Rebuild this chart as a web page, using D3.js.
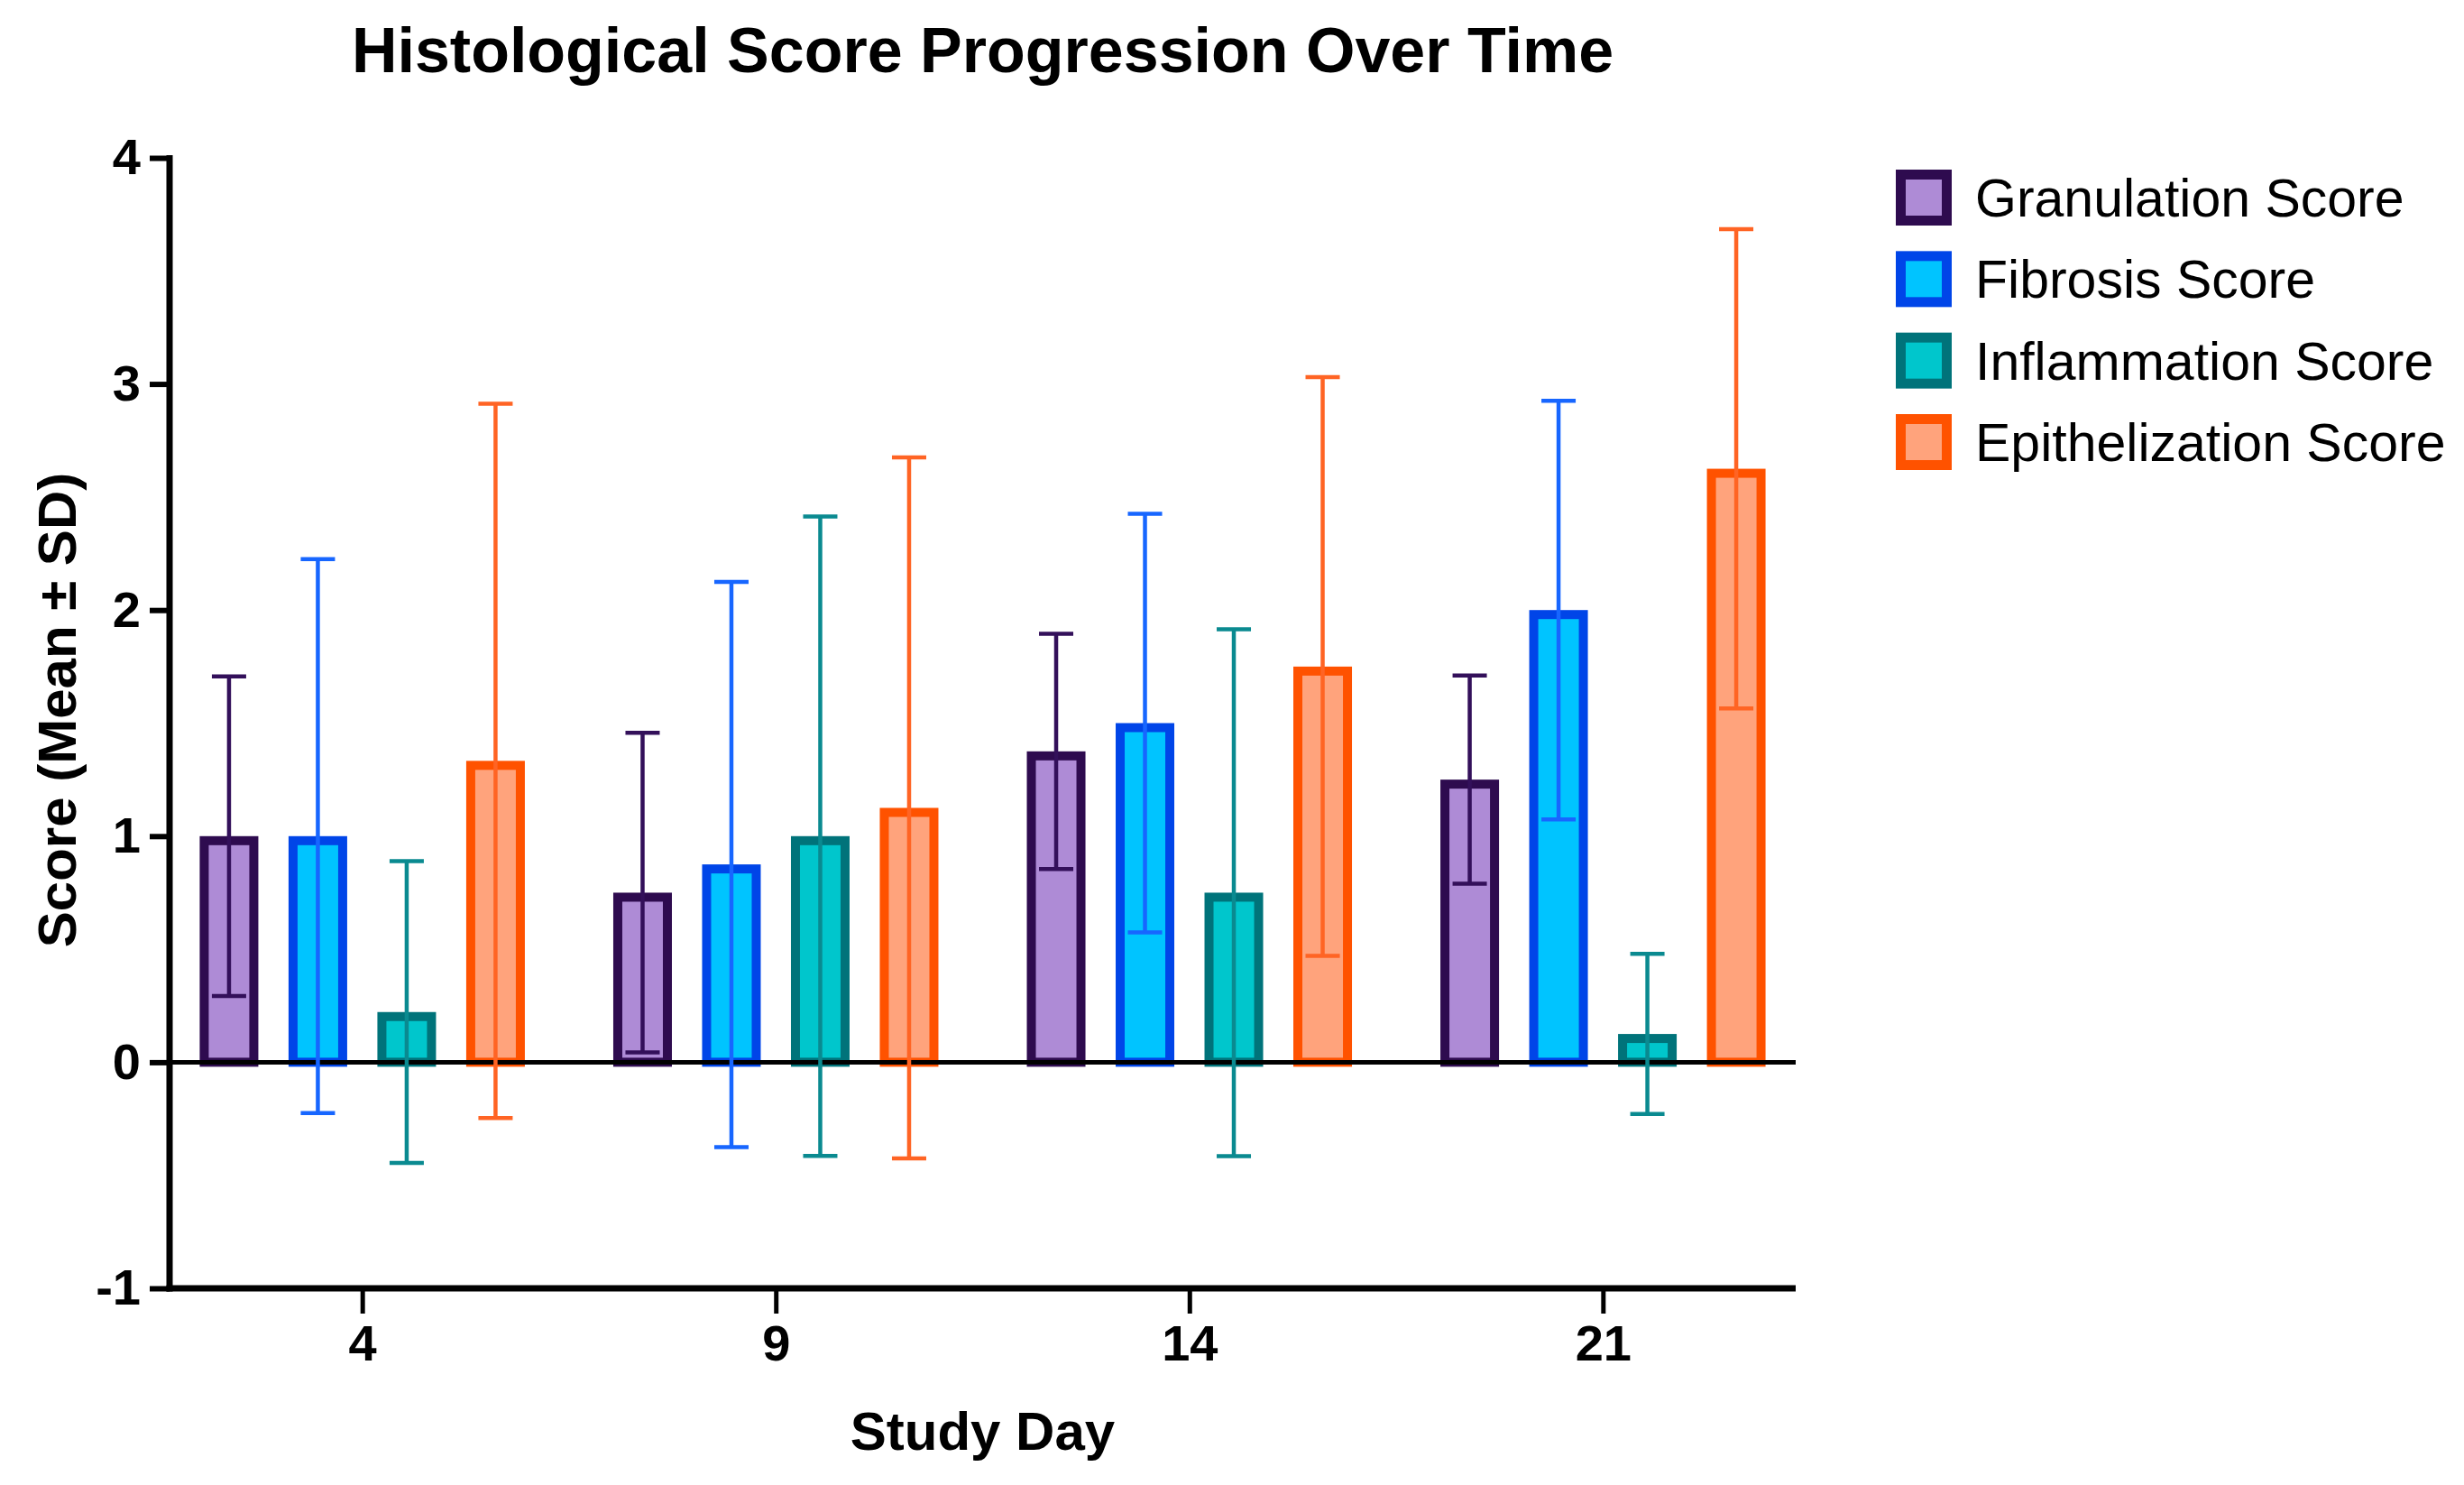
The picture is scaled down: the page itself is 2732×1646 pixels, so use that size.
<!DOCTYPE html>
<html>
<head>
<meta charset="utf-8">
<script src="https://cdn.jsdelivr.net/npm/d3@7"></script>
<style>
  html, body { margin: 0; padding: 0; background: #fff; }
  svg { display: block; }
  text { font-family: "Liberation Sans", Arial, Helvetica, sans-serif; fill: #000; }
</style>
</head>
<body>
<svg id="chart" width="2732" height="1646"></svg>
<script>
// ---- Data ----
const days = ["4", "9", "14", "21"];
const seriesNames = ["Granulation Score", "Fibrosis Score", "Inflammation Score", "Epithelization Score"];
const granulationMean = [1.0, 0.75, 1.375, 1.25];
const granulationSD   = [0.707, 0.707, 0.52, 0.46];
const fibrosisMean    = [1.0, 0.875, 1.5, 2.0];
const fibrosisSD      = [1.225, 1.25, 0.926, 0.926];
const inflammationMean = [0.222, 1.0, 0.75, 0.125];
const inflammationSD   = [0.667, 1.414, 1.165, 0.354];
const epithelizationMean = [1.333, 1.125, 1.75, 2.625];
const epithelizationSD   = [1.58, 1.55, 1.28, 1.06];
const yTickValues = [-1, 0, 1, 2, 3, 4];
const yTickLabels = ["-1", "0", "1", "2", "3", "4"];

const fillColors   = ["#AE8BD6", "#00C4FF", "#00C6CC", "#FFA37C"];
const strokeColors = ["#2E0B4F", "#0045E8", "#00737A", "#FF5200"];
const errColors    = ["#33105A", "#1766FF", "#0A8A90", "#FF6424"];

const means = [granulationMean, fibrosisMean, inflammationMean, epithelizationMean];
const sds = [granulationSD, fibrosisSD, inflammationSD, epithelizationSD];

const rows = [];
days.forEach((d, i) => {
  seriesNames.forEach((s, j) => {
    rows.push({ day: d, series: s, j: j, mean: means[j][i], sd: sds[j][i] });
  });
});

// ---- Layout ----
const svg = d3.select("#chart");
const plotLeft = 188, plotRight = 1991, plotTop = 175, plotBottom = 1428;

const y = d3.scaleLinear().domain([-1, 4]).range([plotBottom, plotTop]);
const x = d3.scalePoint().domain(days).range([plotLeft, plotRight]).padding(0.466);
const groupHalf = 197;
const xs = d3.scaleBand().domain(seriesNames).range([-groupHalf, groupHalf])
  .paddingInner(0.34).paddingOuter(0.17);

const bw = 10; // bar border width
// ---- Bars ----
const bars = svg.append("g");
bars.selectAll("rect").data(rows).join("rect")
  .attr("x", d => x(d.day) + xs(d.series) + bw / 2)
  .attr("y", d => y(d.mean) + bw / 2)
  .attr("width", xs.bandwidth() - bw)
  .attr("height", d => Math.max(0, y(0) - y(d.mean) - bw / 2))
  .attr("fill", d => fillColors[d.j])
  .attr("stroke", d => strokeColors[d.j])
  .attr("stroke-width", bw);

// ---- Zero line ----
svg.append("line")
  .attr("x1", plotLeft).attr("x2", plotRight)
  .attr("y1", y(0)).attr("y2", y(0))
  .attr("stroke", "#000").attr("stroke-width", 5);

// ---- Error bars ----
const capW = 38;
const eb = svg.append("g");
rows.forEach(d => {
  const cx = x(d.day) + xs(d.series) + xs.bandwidth() / 2;
  const g = eb.append("g").attr("stroke", errColors[d.j]).attr("stroke-width", 4.5);
  g.append("line").attr("x1", cx).attr("x2", cx)
    .attr("y1", y(d.mean + d.sd)).attr("y2", y(d.mean - d.sd));
  g.append("line").attr("x1", cx - capW / 2).attr("x2", cx + capW / 2)
    .attr("y1", y(d.mean + d.sd)).attr("y2", y(d.mean + d.sd));
  g.append("line").attr("x1", cx - capW / 2).attr("x2", cx + capW / 2)
    .attr("y1", y(d.mean - d.sd)).attr("y2", y(d.mean - d.sd));
});

// ---- Axes ----
const yAxis = d3.axisLeft(y).tickValues(yTickValues).tickSize(22).tickPadding(10)
  .tickFormat((d, i) => yTickLabels[i]);
const yg = svg.append("g").attr("transform", `translate(${plotLeft},0)`).call(yAxis);
yg.select(".domain").remove();
yg.selectAll(".tick line").attr("stroke", "#000").attr("stroke-width", 6);
yg.selectAll(".tick text").attr("font-size", 56).attr("font-weight", 900)
  .attr("font-family", "'Liberation Sans', Arial, sans-serif").attr("fill", "#000");
svg.append("line").attr("x1", plotLeft).attr("x2", plotLeft)
  .attr("y1", plotTop - 3).attr("y2", plotBottom + 3.5)
  .attr("stroke", "#000").attr("stroke-width", 7);

const xAxis = d3.axisBottom(x).tickSize(28).tickPadding(12);
const xg = svg.append("g").attr("transform", `translate(0,${plotBottom})`).call(xAxis);
xg.select(".domain").remove();
xg.selectAll(".tick line").attr("stroke", "#000").attr("stroke-width", 5);
xg.selectAll(".tick text").attr("font-size", 56).attr("font-weight", "bold")
  .attr("font-family", "'Liberation Sans', Arial, sans-serif").attr("fill", "#000");
svg.append("line").attr("x1", plotLeft - 3.5).attr("x2", plotRight)
  .attr("y1", plotBottom).attr("y2", plotBottom)
  .attr("stroke", "#000").attr("stroke-width", 7);

// ---- Titles ----
svg.append("text").attr("x", (plotLeft + plotRight) / 2).attr("y", 80)
  .attr("text-anchor", "middle").attr("font-size", 70).attr("font-weight", "bold")
  .text("Histological Score Progression Over Time");

svg.append("text").attr("x", (plotLeft + plotRight) / 2).attr("y", 1607)
  .attr("text-anchor", "middle").attr("font-size", 60).attr("font-weight", "bold")
  .text("Study Day");

svg.append("text").attr("transform", "translate(84,787) rotate(-90)")
  .attr("text-anchor", "middle").attr("font-size", 60).attr("font-weight", "bold")
  .text("Score (Mean ± SD)");

// ---- Legend ----
const legendY = d3.scalePoint().domain(seriesNames).range([219, 490]);
const lg = svg.append("g");
const sw = 62, sb = 11;
seriesNames.forEach((s, j) => {
  const cy = legendY(s);
  lg.append("rect")
    .attr("x", 2102 + sb / 2).attr("y", cy - sw / 2 + sb / 2)
    .attr("width", sw - sb).attr("height", sw - sb)
    .attr("fill", fillColors[j]).attr("stroke", strokeColors[j]).attr("stroke-width", sb);
  lg.append("text").attr("x", 2190).attr("y", cy + 21)
    .attr("font-size", 59).text(s);
});
</script>
</body>
</html>
